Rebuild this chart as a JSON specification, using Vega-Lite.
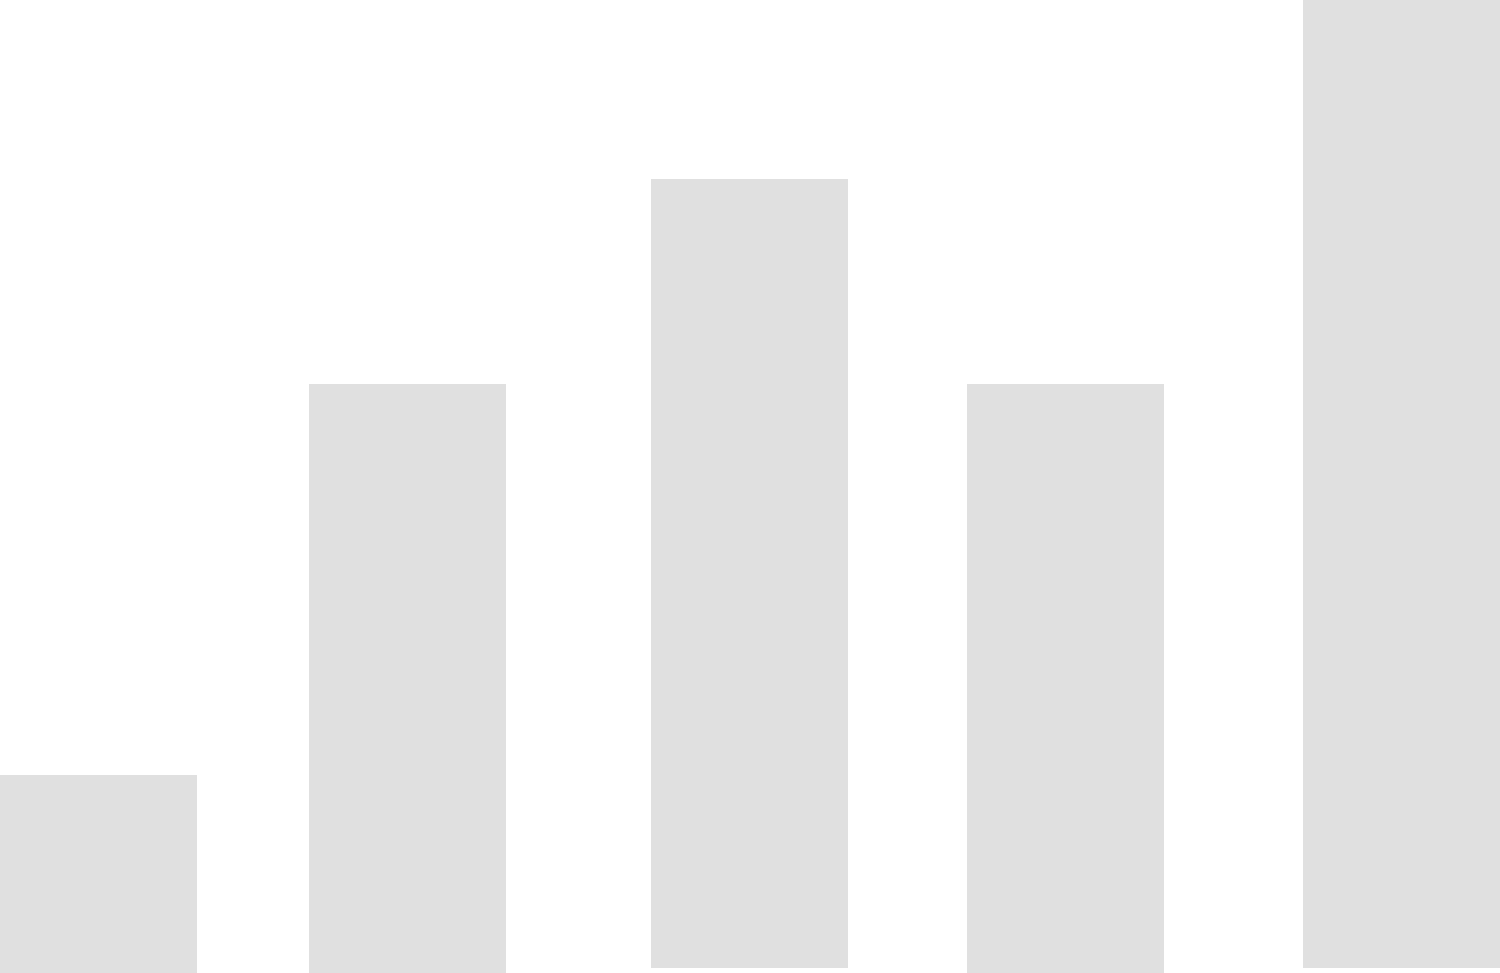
{
  "$schema": "https://vega.github.io/schema/vega-lite/v6.json",
  "autosize": {"type": "fit", "contains": "padding"},
  "width": 1500,
  "height": 973,
  "padding": 0,
  "background": "white",
  "config": {"view": {"stroke": null}},
  "data": {"values": [
    {"start": 0, "end": 197, "low": 0, "high": 198},
    {"start": 309, "end": 506, "low": 0, "high": 589},
    {"start": 651, "end": 848, "low": 5, "high": 794},
    {"start": 967, "end": 1164, "low": 0, "high": 589},
    {"start": 1303, "end": 1500, "low": 5, "high": 973}
  ]},
  "mark": {"type": "bar", "color": "#e0e0e0"},
  "encoding": {
    "x": {"field": "start", "type": "quantitative", "scale": {"domain": [0, 1500], "nice": false, "zero": false}, "axis": null},
    "x2": {"field": "end"},
    "y": {"field": "low", "type": "quantitative", "scale": {"domain": [0, 973], "nice": false}, "axis": null},
    "y2": {"field": "high"}
  }
}
